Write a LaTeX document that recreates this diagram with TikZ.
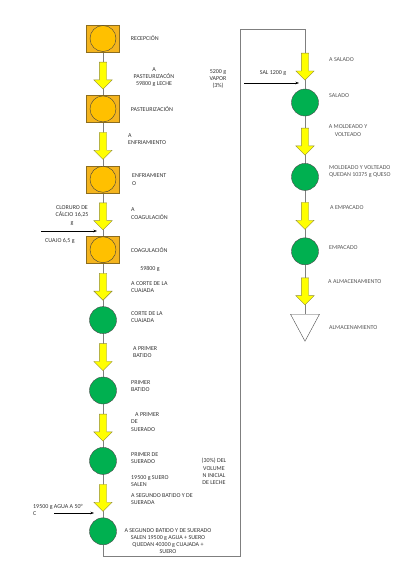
\documentclass[tikz,border=0pt]{standalone}
\usepackage{fontspec}
\setmainfont{Carlito}
\usetikzlibrary{shapes.geometric,shapes.arrows,positioning,calc,backgrounds,arrows.meta}

\definecolor{sqfill}{HTML}{F4B41E}
\definecolor{sqline}{HTML}{8C6D1F}
\definecolor{oro}{HTML}{FFC000}
\definecolor{verde}{HTML}{00B050}
\definecolor{amarillo}{HTML}{FFFF00}
\definecolor{linea}{HTML}{7F7F7F}
\definecolor{txt}{HTML}{333333}
\definecolor{txtb}{HTML}{555555}

\begin{document}
\begin{tikzpicture}[
    node distance=43pt,
    sq/.style={rectangle, draw=sqline, thin, fill=sqfill, minimum width=33pt, minimum height=27pt, inner sep=0pt},
    oc/.style={circle, draw=black!75, thin, fill=oro, minimum size=26pt, inner sep=0pt},
    gc/.style={circle, draw=black!70, thin, fill=verde, minimum size=27pt, inner sep=0pt},
    tri/.style={isosceles triangle, isosceles triangle stretches, draw=black!70, thin, fill=white, rotate=-90, minimum width=29pt, minimum height=27pt, inner sep=0pt},
    ya/.style={single arrow, draw=olive!60!gray, thin, fill=amarillo, rotate=-90, minimum height=27pt, minimum width=18pt, single arrow head extend=5.5pt, inner xsep=0pt, inner ysep=3.5pt},
    link/.style={draw=linea, line width=0.8pt},
    feed/.style={-{Stealth[length=3.5pt,width=2.5pt]}, black, line width=0.5pt},
    lbl/.style={font=\fontsize{6}{7.2}\selectfont, text=txt, inner sep=0pt, align=left},
    lblc/.style={lbl, align=center},
    lblr/.style={lbl, text=txtb}
]
    \useasboundingbox (0,0) rectangle (415pt,-565pt);

    % Columna izquierda
    \node[sq] (sq1) at (103pt,-38.5pt) {};
    \node[oc] (oc1) at (sq1) {};
    \node[sq, below=of sq1] (sq2) {};
    \node[oc] (oc2) at (sq2) {};
    \node[sq, below=of sq2] (sq3) {};
    \node[oc] (oc3) at (sq3) {};
    \node[sq, below=of sq3] (sq4) {};
    \node[oc] (oc4) at (sq4) {};
    \node[gc, below=of sq4] (c1) {};
    \node[gc, below=of c1] (c2) {};
    \node[gc, below=of c2] (c3) {};
    \node[gc, below=of c3] (c4) {};

    % Columna derecha
    \node[gc] (sal) at (305pt,-102.5pt) {};
    \node[gc, below=47pt of sal] (mol) {};
    \node[gc, below=47pt of mol] (emp) {};
    \node[tri, anchor=west] (alm) at ([yshift=-49pt]emp.south) {};

    \coordinate (bl) at (240pt,-556pt);
    \coordinate (tr) at (305pt,-29pt);

    % Lineas de union
    \begin{scope}[on background layer]
        \draw[link] (sq1) -- (c4);
        \draw[link] (c4) |- (bl) |- (tr) -- (sal);
        \draw[link] (sal) -- (alm.west);
    \end{scope}

    % Flechas amarillas
    \foreach \u/\d/\n in {sq1/sq2/a1, sq2/sq3/a2, sq3/sq4/a3, sq4/c1/a4, c1/c2/a5, c2/c3/a6, c3/c4/a7, sal/mol/r1, mol/emp/r2}
        \node[ya] (\n) at ($(\u.south)!0.5!(\d.north)$) {};
    \node[ya] (r0) at ([yshift=24pt]sal.north) {};
    \node[ya] (r3) at ($(emp.south)!0.5!(alm.west)$) {};

    % Entradas
    \coordinate (cl0) at (41pt,-231pt);
    \draw[feed, shorten >=6pt] (cl0) -- (cl0 -| sq4);
    \coordinate (ag0) at (54pt,-513pt);
    \draw[feed, shorten >=9pt] (ag0) -- (ag0 -| c4);
    \coordinate (sl0) at (244pt,-83pt);
    \draw[feed, shorten >=6pt] (sl0) -- (sl0 -| sal);

    % Textos izquierda
    \node[lbl, right=11pt of sq1] (tRec) {RECEPCIÓN};
    \node[lblc] (tA1) at (154pt,-77pt) {A\\PASTEURIZACÓN\\59800 g LECHE};
    \node[lblc] (tVap) at (218pt,-79pt) {5200 g\\VAPOR\\(3\%)};
    \node[lbl, right=11pt of sq2] (tPas) {PASTEURIZACIÓN};
    \node[lbl, anchor=west] (tA2) at (128pt,-139pt) {A\\ENFRIAMIENTO};
    \node[lbl, anchor=west] (tEnf) at (132pt,-179.5pt) {ENFRIAMIENT\\O};
    \node[lbl, anchor=west] (tA3) at (131pt,-213.5pt) {A\\COAGULACIÓN};
    \node[lblc] (tClo) at (72pt,-215.5pt) {CLORURO DE\\CÁLCIO 16,25\\g};
    \node[lbl, anchor=west] (tCua) at (45pt,-241pt) {CUAJO 6,5 g};
    \node[lbl, right=11pt of sq4] (tCoa) {COAGULACIÓN};
    \node[lblc] (tM1) at (150pt,-269pt) {59800 g};
    \node[lbl, anchor=west] (tA4) at (131pt,-287pt) {A CORTE DE LA\\CUAJADA};
    \node[lbl, anchor=west] (tCor) at (131pt,-317pt) {CORTE DE LA\\CUAJADA};
    \node[lbl, anchor=west] (tA5) at (133pt,-352pt) {A PRIMER\\BATIDO};
    \node[lbl, anchor=west] (tBat) at (131pt,-386pt) {PRIMER\\BATIDO};
    \node[lbl, anchor=west] (tA6) at (131pt,-422pt) {\hspace*{4pt}A PRIMER\\DE\\SUERADO};
    \node[lbl, anchor=west] (tSue) at (131pt,-458pt) {PRIMER DE\\SUERADO};
    \node[lbl, anchor=west] (tSal1) at (131pt,-481pt) {19500 g SUERO\\SALEN};
    \node[lbl, anchor=west] (tA7) at (131pt,-499pt) {A SEGUNDO BATIDO Y DE\\SUERADA};
    \node[lblc] (tVol) at (214pt,-471.5pt) {(30\%) DEL\\VOLUME\\N INICIAL\\DE LECHE};
    \node[lbl, anchor=west] (tAgu) at (33pt,-510pt) {19500 g AGUA A 50°\\C};
    \node[lblc] (tSeg) at (168pt,-541pt) {A SEGUNDO BATIDO Y DE SUERADO\\SALEN 19500 g AGUA + SUERO\\QUEDAN 40300 g CUAJADA +\\SUERO};

    % Textos derecha
    \node[lblr, anchor=west] (tR0) at (329pt,-60pt) {A SALADO};
    \node[lblc] (tSl) at (273pt,-73pt) {SAL 1200 g};
    \node[lblr, anchor=west] (tSalado) at (329pt,-96pt) {SALADO};
    \node[lblr, align=center] (tR1) at (348pt,-130.5pt) {A MOLDEADO Y\\VOLTEADO};
    \node[lblr, anchor=west] (tMol) at (329pt,-171.5pt) {MOLDEADO Y VOLTEADO\\QUEDAN 10375 g QUESO};
    \node[lblr, anchor=west] (tR2) at (330pt,-208pt) {A EMPACADO};
    \node[lblr, anchor=west] (tEmp) at (329pt,-248pt) {EMPACADO};
    \node[lblr, anchor=west] (tR3) at (328pt,-282pt) {A ALMACENAMIENTO};
    \node[lblr, anchor=west] (tAlm) at (329pt,-328pt) {ALMACENAMIENTO};
\end{tikzpicture}
\end{document}
